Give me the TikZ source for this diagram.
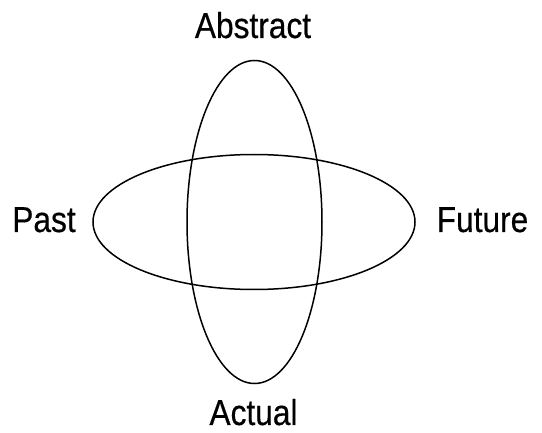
\documentclass[tikz,border=0pt]{standalone}
\usepackage{fontspec}
\setmainfont{Liberation Sans}[FakeStretch=0.88,FakeBold=0.4]
\usepackage{tikz}
\usetikzlibrary{shapes.geometric}

\begin{document}
\begin{tikzpicture}[
    x=1pt,y=1pt,
    font=\fontsize{36}{40}\selectfont,
    oval/.style={ellipse,draw,line width=1.5pt,inner sep=0pt},
    label/.style={anchor=base,inner sep=0pt}
]
\useasboundingbox (0,0) rectangle (542,432);

% 两个椭圆，同一中心
\node[oval,minimum width=135,minimum height=323] (vert) at (254.5,210) {};
\node[oval,minimum width=322,minimum height=135] (horz) at (254,210) {};

% 四个标签
\node[label] (abstract) at (253,394) {Abstract};
\node[label] (actual) at (253.5,7) {Actual};
\node[label] (past) at (44,200) {Past};
\node[label] (future) at (482.5,200) {Future};

\end{tikzpicture}
\end{document}
